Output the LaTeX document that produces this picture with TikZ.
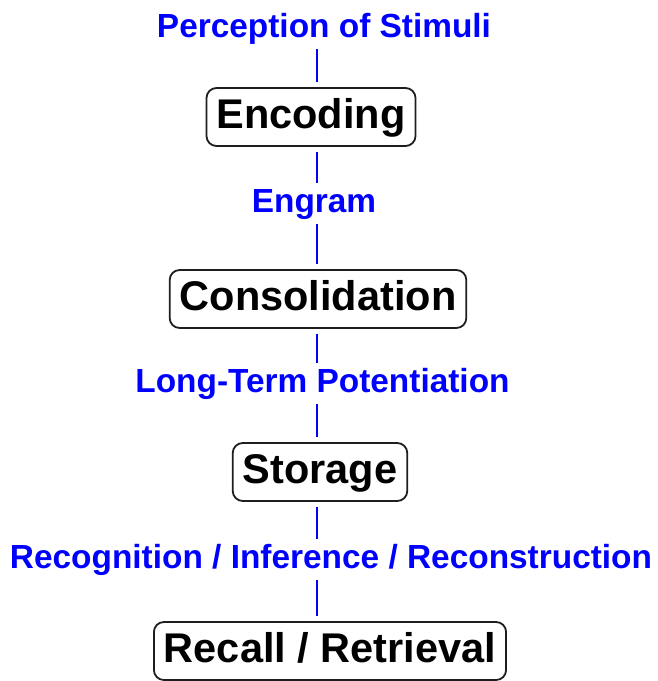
\documentclass[tikz,border=0pt]{standalone}
\usepackage{fontspec}
\setmainfont{Liberation Sans}
\usepackage{xcolor}
\definecolor{lblblue}{RGB}{0,0,255}
\definecolor{boxline}{RGB}{30,30,30}

\tikzset{
	stage/.style={draw=boxline, line width=1.8pt, rounded corners=10pt,
		font=\fontsize{41.5}{44}\selectfont\bfseries,
		text height=29pt, text depth=7pt, inner xsep=10pt, inner ysep=11pt, anchor=base},
	proc/.style={text=lblblue, font=\fontsize{33.4}{36}\selectfont\bfseries,
		text height=24pt, text depth=7pt, inner sep=0pt, anchor=base},
	link/.style={draw=lblblue, line width=1.8pt, shorten <=5pt, shorten >=5pt}
}

\begin{document}
\begin{tikzpicture}[x=1pt,y=-1pt]
		\useasboundingbox (0,0) rectangle (658,681);
		\coordinate (spine) at (317,0);
		\node[proc] (stim) at (324,37) {Perception of Stimuli};
		\node[stage] (enc) at (311,128) {Encoding};
		\node[proc] (engram) at (314,212) {Engram};
		\node[stage] (cons) at (318,310) {Consolidation};
		\node[proc] (ltp) at (322.5,392) {Long-Term Potentiation};
		\node[stage] (stor) at (320,483) {Storage};
		\node[proc] (recog) at (331,568) {Recognition / Inference / Reconstruction};
		\node[stage] (recall) at (330,662) {Recall / Retrieval};
		%
		\path[link]
		% label to stage
		(stim.south -| spine) edge (enc.north -| spine)
		(engram.south -| spine) edge (cons.north -| spine)
		(ltp.south -| spine) edge (stor.north -| spine)
		(recog.south -| spine) edge (recall.north -| spine)
		% stage to label
		(enc.south -| spine) edge (engram.north -| spine)
		(cons.south -| spine) edge (ltp.north -| spine)
		(stor.south -| spine) edge (recog.north -| spine);
	\end{tikzpicture}
\end{document}
